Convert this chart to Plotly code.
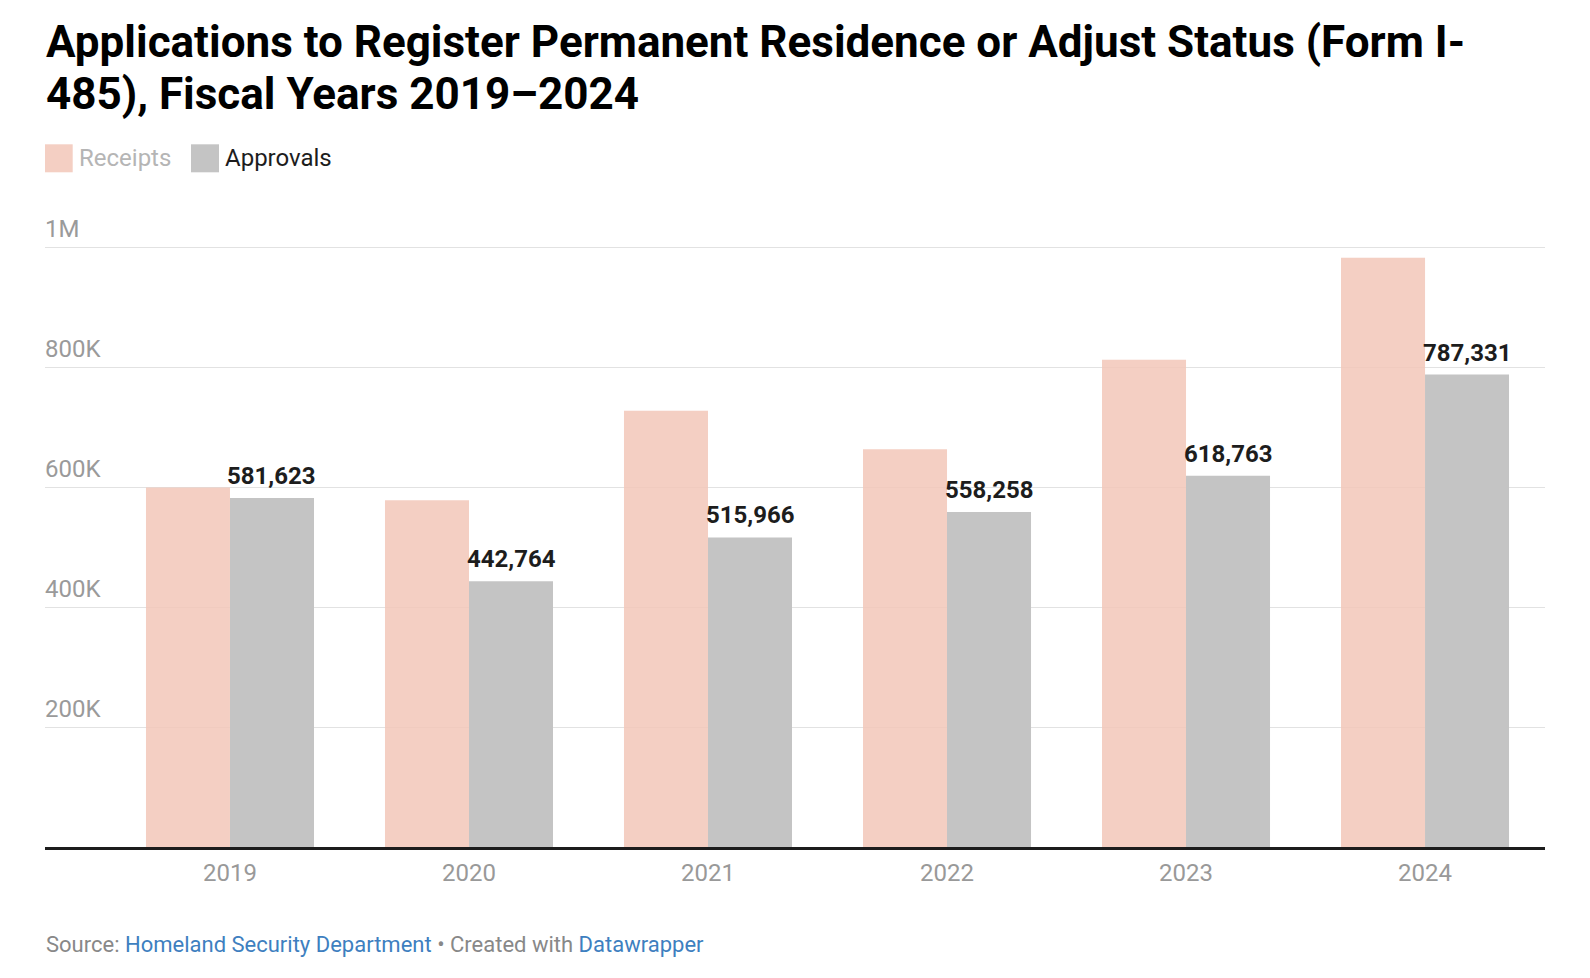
import plotly.graph_objects as go

# ---- data ----
years = ["2019", "2020", "2021", "2022", "2023", "2024"]
receipts = [599000, 578000, 727000, 663000, 812000, 982000]
approvals = [581623, 442764, 515966, 558258, 618763, 787331]
series_names = ["Receipts", "Approvals"]
y_tickvals = [200000, 400000, 600000, 800000, 1000000]
y_ticktext = ["200K", "400K", "600K", "800K", "1M"]
title_lines = ["Applications to Register Permanent Residence or Adjust Status (Form I-",
               "485), Fiscal Years 2019\u20132024"]
source_text = ("Source: <span style='color:#3e7fc0'>Homeland Security Department</span>"
               " \u2022 Created with <span style='color:#3e7fc0'>Datawrapper</span>")

# ---- geometry (page pixels; the page body has an 8px margin) ----
OFF = 8
W, H = 1590 - OFF, 978 - OFF
YMAX = 1100000
L, R, B = 45 - OFF, 1545 - OFF, 846.7 - OFF
T = B - 600 * YMAX / 1e6

def px_x(x):
    return (x - OFF - L) / (R - L)

def px_y(y):
    return (B - (y - OFF)) / (B - T)

C_REC = "#f2c7b8"
C_APP = "#c4c4c4"
FONT = "Roboto"

fig = go.Figure()
fig.add_trace(go.Bar(x=years, y=receipts, name=series_names[0],
                     marker=dict(color=C_REC, line=dict(width=0)), opacity=0.85,
                     showlegend=False, hoverinfo="skip"))
fig.add_trace(go.Bar(x=years, y=approvals, name=series_names[1],
                     marker=dict(color=C_APP, line=dict(width=0)),
                     showlegend=False, hoverinfo="skip"))

annotations = []
# value labels on approvals bars (x given as category index)
for i, v in enumerate(approvals):
    annotations.append(dict(x=i, y=v, xref="x", yref="y", text=f"{v:,}",
                            showarrow=False, xshift=42, yshift=6, yanchor="bottom",
                            xanchor="center",
                            font=dict(family=FONT, size=24, color="#1d1d1d", weight=700)))

# title
for k, (line, yc) in enumerate(zip(title_lines, [42, 94])):
    annotations.append(dict(x=px_x(44), y=px_y(yc), xref="paper", yref="paper",
                            text=line, showarrow=False, xanchor="left", yanchor="middle",
                            font=dict(family=FONT, size=44, color="#000000", weight=700)))

# legend (manual)
shapes = []
legend_items = [(45, 72.7, 77, series_names[0], "#f4cfc3", "#b5b5b5"),
                (191, 219, 223, series_names[1], C_APP, "#1d1d1d")]
for x0, x1, tx, name, col, tcol in legend_items:
    shapes.append(dict(type="rect", xref="paper", yref="paper",
                       x0=px_x(x0), x1=px_x(x1), y0=px_y(172), y1=px_y(144),
                       fillcolor=col, line=dict(width=0), layer="above"))
    annotations.append(dict(x=px_x(tx), y=px_y(158), xref="paper", yref="paper",
                            text=name, showarrow=False, xanchor="left", yanchor="middle",
                            font=dict(family=FONT, size=24, color=tcol)))

# source line
annotations.append(dict(
    x=px_x(44), y=px_y(944), xref="paper", yref="paper", xanchor="left", yanchor="middle",
    showarrow=False, text=source_text,
    font=dict(family=FONT, size=22, color="#888888")))

fig.update_layout(
    width=W, height=H,
    margin=dict(l=L, r=W - R, t=T, b=H - B, pad=0),
    paper_bgcolor="white", plot_bgcolor="white",
    barmode="group", bargap=0.297, bargroupgap=0,
    xaxis=dict(type="category", range=[-0.774, 5.502], showgrid=False,
               showline=True, linecolor="#1d1d1d", linewidth=2.5, ticks="",
               ticklabelstandoff=2,
               tickfont=dict(family=FONT, size=24, color="#999999"), fixedrange=True),
    yaxis=dict(range=[0, YMAX], tickvals=y_tickvals, ticktext=y_ticktext,
               showgrid=True, gridcolor="#e2e2e2", gridwidth=1.3, zeroline=False,
               showline=False, ticks="", ticklabelposition="inside",
               ticklabelshift=-18, ticklabelstandoff=-3,
               tickfont=dict(family=FONT, size=24, color="#9a9a9a"), fixedrange=True),
    annotations=annotations, shapes=shapes,
    showlegend=False,
)

fig.write_html("out.html")
